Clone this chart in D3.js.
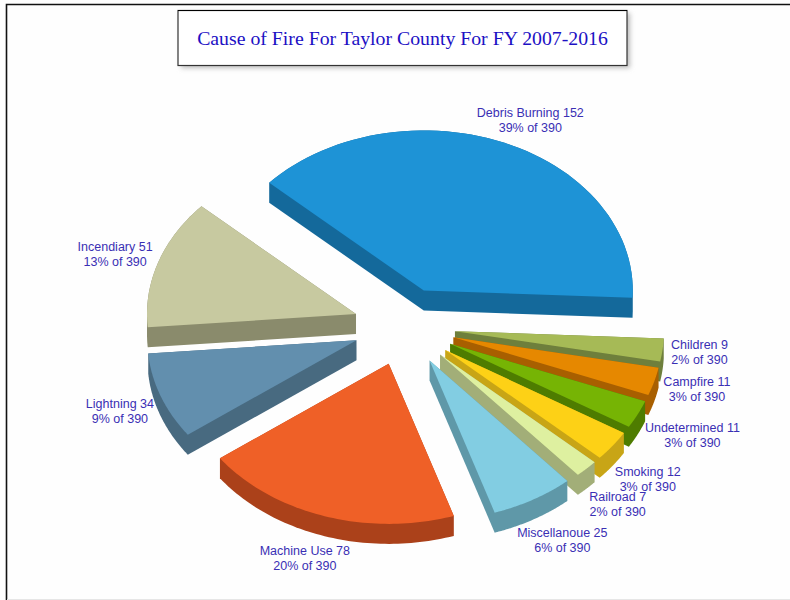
<!DOCTYPE html>
<html>
<head>
<meta charset="utf-8">
<script src="https://cdn.jsdelivr.net/npm/d3@7/dist/d3.min.js"></script>
<style>
  html, body { margin: 0; padding: 0; background: #fff; overflow: hidden; }
  svg { display: block; }
</style>
</head>
<body>
<svg id="chart" width="790" height="600"></svg>
<script>
// Fire causes, clockwise from the large slice
const causes = ["Debris Burning", "Children", "Campfire", "Undetermined", "Smoking",
                "Railroad", "Miscellanoue", "Machine Use", "Lightning", "Incendiary"];
const counts = [152, 9, 11, 11, 12, 7, 25, 78, 34, 51];
const percents = [39, 2, 3, 3, 3, 2, 6, 20, 9, 13];
const total = 390;

const topColors = ["#1e93d6", "#a6ba56", "#e68800", "#76b404", "#fdd116",
                   "#def0a0", "#82cde2", "#ef6027", "#628fae", "#c7c9a0"];
const sideColors = ["#14699b", "#6e7f3c", "#a85f00", "#4e7c00", "#c8a516",
                    "#a2ae78", "#5f98a8", "#ab411a", "#486a80", "#8a8b6c"];

// Label shift from the rim point at each slice's middle angle
const labelShift = [[26.7, -23], [37, 1.5], [42.7, 7.5], [54.7, 20.5], [35.2, 33],
                    [31.2, 35], [29.2, 40.5], [-19.8, 41.5], [-40.8, 14.5], [-43, -9]];

// Projection of the tilted pie
const cx = 404.3, cy = 326.6, radius = 209, tilt = 0.766, depth = 20, explode = 51;
const start = -47.7 * Math.PI / 180;

const svg = d3.select("#chart");

const defs = svg.append("defs");
defs.append("filter").attr("id", "soft")
  .attr("x", "-5%").attr("y", "-20%").attr("width", "110%").attr("height", "140%")
  .append("feGaussianBlur").attr("stdDeviation", 2.5);

// Page frame
svg.append("rect").attr("width", 790).attr("height", 600).attr("fill", "#fefefe");
svg.append("path").attr("d", "M6.5,600V4.5H790").attr("fill", "none")
  .attr("stroke", "#111").attr("stroke-width", 1.6);
svg.append("path").attr("d", "M7,599.5H790").attr("fill", "none").attr("stroke", "#e6e6e6");

// Title box
svg.append("rect").attr("x", 181).attr("y", 13).attr("width", 449).attr("height", 55)
  .attr("fill", "#bbb").attr("filter", "url(#soft)");
svg.append("rect").attr("x", 178).attr("y", 10.5).attr("width", 449).attr("height", 55)
  .attr("fill", "#fff").attr("stroke", "#333").attr("stroke-width", 1.2);
svg.append("path").attr("d", "M178,10.5H627").attr("stroke", "#000").attr("stroke-width", 1.2);
svg.append("text").attr("x", 402.5).attr("y", 45).attr("text-anchor", "middle")
  .attr("font-family", "'Liberation Serif', serif").attr("font-size", 19.8)
  .attr("fill", "#1c10c4").text("Cause of Fire For Taylor County For FY 2007-2016");

// Slices, painted from the back of the pie to the front
const pie = d3.pie().sort(null).startAngle(start).endAngle(start + 2 * Math.PI);
const arcs = pie(counts);
const ySquash = d3.scaleLinear().domain([0, 1]).range([0, tilt]);

const project = (angle, r) => [r * Math.sin(angle), -ySquash(r * Math.cos(angle))];

const outline = d => {
  const pts = [[0, 0]];
  d3.range(0, 61).forEach(i => {
    pts.push(project(d.startAngle + (d.endAngle - d.startAngle) * i / 60, radius));
  });
  return pts;
};

const line = d3.line();

const slices = svg.append("g").selectAll("g").data(arcs).join("g")
  .attr("transform", d => {
    const [ox, oy] = project((d.startAngle + d.endAngle) / 2, explode);
    return `translate(${cx + ox},${cy + oy})`;
  });

// Extruded body: the hull of the top outline and the same outline pushed down
slices.append("path")
  .attr("fill", (d, i) => sideColors[i])
  .attr("d", d => {
    const top = outline(d);
    const hull = d3.polygonHull(top.concat(top.map(p => [p[0], p[1] + depth])));
    return line(hull) + "Z";
  });

// Top face
slices.append("path")
  .attr("fill", (d, i) => topColors[i])
  .attr("d", d => line(outline(d)) + "Z");

// Two-line labels
const labels = svg.append("g")
  .attr("font-family", "'Liberation Sans', Arial, sans-serif")
  .attr("font-size", 12.5)
  .attr("fill", "#3a2fb4")
  .attr("text-anchor", "middle")
  .selectAll("text").data(arcs).join("text")
  .attr("transform", (d, i) => {
    const [rx, ry] = project((d.startAngle + d.endAngle) / 2, radius + explode);
    return `translate(${cx + rx + labelShift[i][0]},${cy + ry + labelShift[i][1]})`;
  });
labels.append("tspan").attr("x", 0).attr("y", -3)
  .text((d, i) => `${causes[i]} ${counts[i]}`);
labels.append("tspan").attr("x", 0).attr("y", 12)
  .text((d, i) => `${percents[i]}% of ${total}`);
</script>
</body>
</html>
